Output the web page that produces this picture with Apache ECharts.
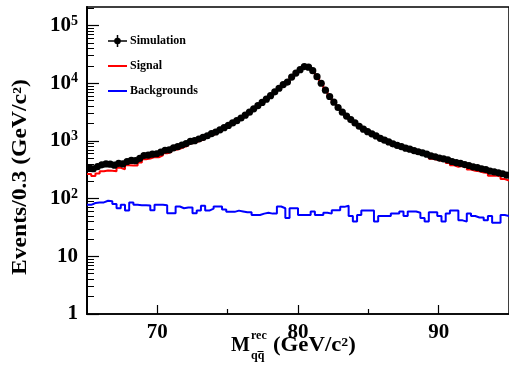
<!DOCTYPE html>
<html><head><meta charset="utf-8">
<script src="https://cdn.jsdelivr.net/npm/echarts@6/dist/echarts.min.js"></script>
<style>html,body{margin:0;padding:0;background:#fff}#c{width:509px;height:369px}</style>
</head><body><div id="c"></div>
<script>
const xMin = 65, xMax = 95, binWidth = 0.3;
const simulation = [345,330,360,385,400,395,380,410,400,440,
 460,455,500,560,570,590,600,640,690,700,
 760,800,850,900,980,1010,1080,1150,1230,1340,
 1430,1560,1700,1860,2050,2250,2500,2800,3150,3600,
 4100,4650,5300,6100,7100,8200,9500,10500,12800,15000,
 17200,19500,19000,16500,13000,10000,7600,5900,4700,3800,
 3150,2700,2350,2050,1800,1600,1450,1330,1220,1110,
 1030,960,890,840,800,750,720,680,650,620,
 590,550,530,505,490,470,440,420,410,390,
 375,355,345,330,320,300,290,280,270,255];
const signal = [267,246,274,299,308,305,299,342,322,378,
 374,377,423,483,494,527,522,562,613,644,
 704,727,782,830,910,954,1018,1075,1168,1273,
 1357,1487,1635,1801,1991,2188,2440,2742,3092,3548,
 4048,4595,5243,6045,7045,8127,9432,10454,12732,14932,
 17148,19448,18948,16440,12948,9948,7543,5845,4637,3737,
 3078,2625,2300,2010,1748,1538,1388,1268,1180,1060,
 980,910,835,785,740,700,660,620,593,574,
 550,492,472,455,450,415,378,358,368,350,
 320,305,298,283,278,250,252,242,218,205];
const backgrounds = [78,84,86,86,92,90,81,68,78,62,
 86,78,77,77,76,63,78,78,77,56,
 56,73,68,70,70,56,62,75,62,67,
 73,73,65,59,59,62,60,58,58,52,
 52,55,57,55,55,73,68,46,68,68,
 52,52,52,60,52,52,57,55,63,63,
 72,75,50,40,52,62,62,62,40,50,
 50,50,55,55,60,50,60,60,57,46,
 40,58,58,50,40,55,62,62,42,40,
 55,50,47,47,42,50,38,38,52,50];
const xTickValues = [70, 80, 90];
const xMinorTickValues = [75, 85];
const yTickValues = [1, 10, 100, 1000, 10000, 100000];
const yTickLabels = ['1', '10', '10{s|2}', '10{s|3}', '10{s|4}', '10{s|5}'];
const yMax = 210000;

const FONT = 'Liberation Serif';
const yMinorTickValues = [];
for (let d = 1; d <= 100000; d *= 10) for (let m = 2; m <= 9; m++) if (d*m < yMax) yMinorTickValues.push(d*m);

const simData = simulation.map((v, i) => [xMin + binWidth * (i + 0.5), v]);
function stepData(arr) {
  const d = arr.map((v, i) => [xMin + binWidth * i, v]);
  d.push([xMin + binWidth * arr.length, arr[arr.length - 1]]);
  return d;
}

const chart = echarts.init(document.getElementById('c'), null, {renderer: 'canvas'});
const labelStyle = {color: '#000', fontFamily: FONT, fontWeight: 'bold', fontSize: 21};
chart.setOption({
  animation: false,
  backgroundColor: '#fff',
  grid: {show: true, left: 87, top: 7, width: 426, height: 307, borderColor: '#000', borderWidth: 1.5, backgroundColor: 'transparent'},
  xAxis: [{
    type: 'value', min: xMin, max: xMax, position: 'bottom',
    axisLine: {show: true, lineStyle: {color: '#000', width: 1.5}},
    axisTick: {show: true, inside: true, length: 9, customValues: xTickValues, lineStyle: {color: '#000', width: 1.2}},
    axisLabel: Object.assign({customValues: xTickValues, margin: 8}, labelStyle),
    splitLine: {show: false}
  }, {
    type: 'value', min: xMin, max: xMax, position: 'bottom', gridIndex: 0,
    axisLine: {show: false},
    axisTick: {show: true, inside: true, length: 5, customValues: xMinorTickValues, lineStyle: {color: '#000', width: 1.2}},
    axisLabel: {show: false}, splitLine: {show: false}
  }],
  yAxis: [{
    type: 'log', logBase: 10, min: 1, max: yMax, position: 'left',
    axisLine: {show: true, lineStyle: {color: '#000', width: 2}},
    axisTick: {show: true, inside: true, length: 12, customValues: yTickValues, lineStyle: {color: '#000', width: 1.2}},
    axisLabel: Object.assign({
      customValues: yTickValues, margin: 9,
      formatter: v => yTickLabels[Math.round(Math.log10(v))],
      rich: {s: {fontSize: 14, fontFamily: FONT, fontWeight: 'bold', color: '#000', verticalAlign: 'top', padding: [0, 0, 9, 0]}}
    }, labelStyle),
    splitLine: {show: false}
  }, {
    type: 'log', logBase: 10, min: 1, max: yMax, position: 'left', gridIndex: 0,
    axisLine: {show: false},
    axisTick: {show: true, inside: true, length: 7, customValues: yMinorTickValues, lineStyle: {color: '#000', width: 1}},
    axisLabel: {show: false}, splitLine: {show: false}
  }],
  series: [{
    name: 'Backgrounds', type: 'line', step: 'end', data: stepData(backgrounds),
    showSymbol: false, symbol: 'none', lineStyle: {color: '#0000ff', width: 2}, z: 2, clip: true
  }, {
    name: 'Signal', type: 'line', step: 'end', data: stepData(signal),
    showSymbol: false, symbol: 'none', lineStyle: {color: '#ff0000', width: 2}, z: 2, clip: true
  }, {
    name: 'Simulation', type: 'custom', data: simData, z: 3, clip: true,
    encode: {x: 0, y: 1},
    renderItem: (params, api) => {
      const x = api.value(0), y = api.value(1), e = Math.sqrt(y);
      const p = api.coord([x, y]);
      const pt = api.coord([x, y + e]), pb = api.coord([x, Math.max(y - e, 1)]);
      return {type: 'group', children: [
        {type: 'line', shape: {x1: pt[0], y1: pt[1], x2: pb[0], y2: pb[1]}, style: {stroke: '#000', lineWidth: 1.2}},
        {type: 'circle', shape: {cx: p[0], cy: p[1], r: 3.6}, style: {fill: '#000'}}
      ]};
    }
  }],
  graphic: [
    {type: 'text', x: 21, y: 177, rotation: Math.PI / 2, scaleX: 1.18, style: {text: 'Events/0.3 (GeV/c²)', fill: '#000', font: 'bold 20px "Liberation Serif"', align: 'center', verticalAlign: 'middle'}},
    {type: 'text', x: 231, y: 346, style: {text: 'M', fill: '#000', font: 'bold 20px "Liberation Serif"', align: 'left', verticalAlign: 'middle'}},
    {type: 'text', x: 251, y: 336, style: {text: 'rec', fill: '#000', font: 'bold 12px "Liberation Serif"', align: 'left', verticalAlign: 'middle'}},
    {type: 'text', x: 251, y: 356, style: {text: 'qq', fill: '#000', font: 'bold 12px "Liberation Serif"', align: 'left', verticalAlign: 'middle'}},
    {type: 'line', shape: {x1: 257.5, y1: 351.5, x2: 263.5, y2: 351.5}, style: {stroke: '#000', lineWidth: 1}},
    {type: 'text', x: 273, y: 346, scaleX: 1.14, style: {text: '(GeV/c²)', fill: '#000', font: 'bold 20px "Liberation Serif"', align: 'left', verticalAlign: 'middle'}},
    {type: 'line', shape: {x1: 108, y1: 41, x2: 127, y2: 41}, style: {stroke: '#000', lineWidth: 1.5}},
    {type: 'line', shape: {x1: 117.5, y1: 35, x2: 117.5, y2: 47}, style: {stroke: '#000', lineWidth: 1.5}},
    {type: 'circle', shape: {cx: 117.5, cy: 41, r: 3.3}, style: {fill: '#000'}},
    {type: 'text', x: 130, y: 41, style: {text: 'Simulation', fill: '#000', font: 'bold 12px "Liberation Serif"', verticalAlign: 'middle'}},
    {type: 'line', shape: {x1: 108, y1: 66, x2: 127, y2: 66}, style: {stroke: '#ff0000', lineWidth: 2}},
    {type: 'text', x: 130, y: 66, style: {text: 'Signal', fill: '#000', font: 'bold 12px "Liberation Serif"', verticalAlign: 'middle'}},
    {type: 'line', shape: {x1: 108, y1: 91, x2: 127, y2: 91}, style: {stroke: '#0000ff', lineWidth: 2}},
    {type: 'text', x: 130, y: 91, style: {text: 'Backgrounds', fill: '#000', font: 'bold 12px "Liberation Serif"', verticalAlign: 'middle'}}
  ]
});
</script>
</body></html>
